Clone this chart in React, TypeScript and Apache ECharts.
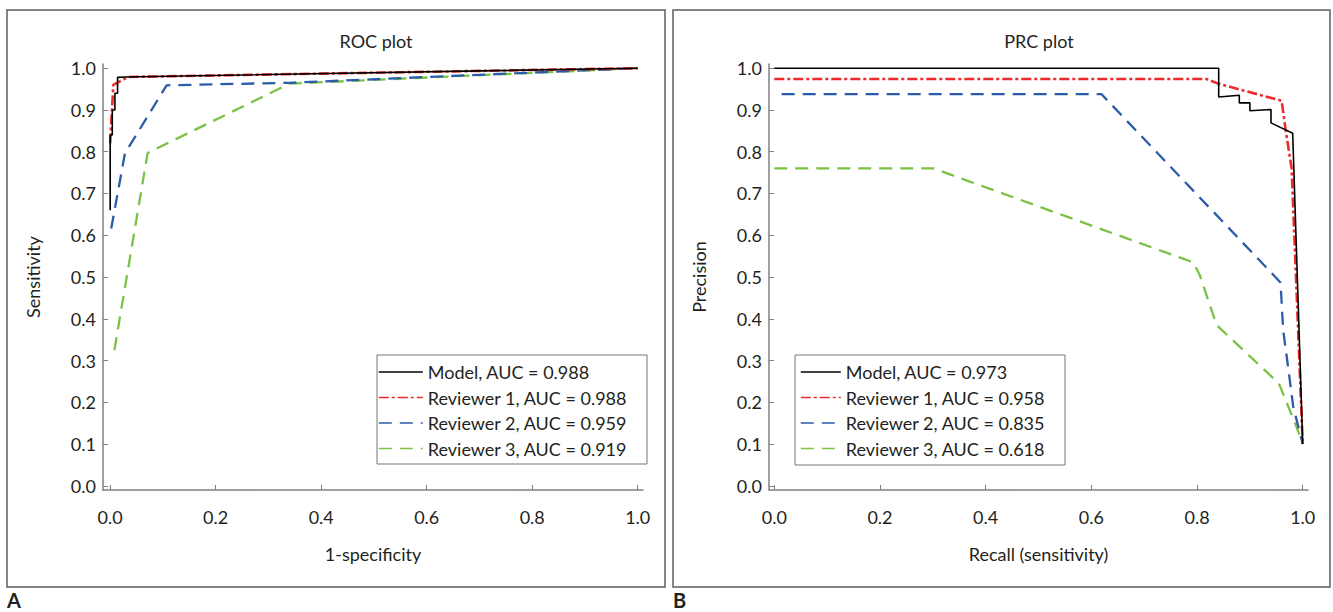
import React, { useEffect, useRef } from "react";
import * as echarts from "echarts";

const FONT = "Lato";
const TEXT = "#231f20";
const AXIS = "#808080";

const rocNames = [
  "Model, AUC = 0.988",
  "Reviewer 1, AUC = 0.988",
  "Reviewer 2, AUC = 0.959",
  "Reviewer 3, AUC = 0.919",
];
const prcNames = [
  "Model, AUC = 0.973",
  "Reviewer 1, AUC = 0.958",
  "Reviewer 2, AUC = 0.835",
  "Reviewer 3, AUC = 0.618",
];

// ROC: [1-specificity, sensitivity]
const rocModel = [
  [0, 0.66], [0, 0.84], [0.004, 0.84], [0.004, 0.9], [0.009, 0.9], [0.009, 0.94],
  [0.014, 0.94], [0.014, 0.978], [0.03, 0.979], [1, 1],
];
const rocReviewer1 = [[0, 0.82], [0.006, 0.96], [0.034, 0.979], [1, 1]];
const rocReviewer2 = [[0.002, 0.616], [0.028, 0.796], [0.107, 0.959], [0.34, 0.965], [1, 1]];
const rocReviewer3 = [[0.008, 0.325], [0.071, 0.797], [0.34, 0.963], [1, 1]];

// PRC: [recall, precision]
const prcModel = [
  [0, 1], [0.841, 1], [0.841, 0.931], [0.88, 0.935], [0.88, 0.917], [0.9, 0.917],
  [0.9, 0.898], [0.94, 0.901], [0.94, 0.869], [0.981, 0.844], [1, 0.1],
];
const prcReviewer1 = [
  [0, 0.974], [0.818, 0.974], [0.84, 0.963], [0.96, 0.922], [0.968, 0.85], [0.979, 0.76], [1, 0.1],
];
const prcReviewer2 = [
  [0.014, 0.938], [0.619, 0.938], [0.958, 0.487], [0.963, 0.373], [0.973, 0.278],
  [0.982, 0.19], [1, 0.1],
];
const prcReviewer3 = [
  [0, 0.76], [0.301, 0.76], [0.793, 0.535], [0.805, 0.505], [0.837, 0.385],
  [0.955, 0.245], [0.988, 0.142], [1, 0.1],
];

const xTicks = [0, 0.2, 0.4, 0.6, 0.8, 1.0];
const yTicks = [0, 0.1, 0.2, 0.3, 0.4, 0.5, 0.6, 0.7, 0.8, 0.9, 1.0];

const colors = ["#000000", "#ee2a2a", "#2c5ca9", "#7bc143"];
const lineTypes: any[] = ["solid", [10, 3, 3, 3], [13, 8], [13, 8]];
const widths = [1.6, 2.6, 2.3, 2.3];

function xAxis(gridIndex: number, min: number, max: number, name: string) {
  return {
    type: "value",
    gridIndex,
    min,
    max,
    name,
    nameLocation: "middle",
    nameGap: 55,
    nameTextStyle: { fontFamily: FONT, fontSize: 18, color: TEXT },
    axisLine: { show: true, onZero: false, lineStyle: { color: AXIS, width: 1.5 } },
    axisTick: { show: true, inside: true, length: 5, customValues: xTicks, lineStyle: { color: AXIS, width: 1 } },
    axisLabel: {
      customValues: xTicks,
      formatter: (v: number) => v.toFixed(1),
      margin: 18,
      fontFamily: FONT,
      fontSize: 18,
      color: TEXT,
    },
    splitLine: { show: false },
  };
}

function yAxis(gridIndex: number, name: string) {
  return {
    type: "value",
    gridIndex,
    min: -0.01,
    max: 1.01,
    name,
    nameLocation: "middle",
    nameGap: 61,
    nameTextStyle: { fontFamily: FONT, fontSize: 18, color: TEXT },
    axisLine: { show: true, onZero: false, lineStyle: { color: AXIS, width: 1.5 } },
    axisTick: { show: true, inside: true, length: 5, customValues: yTicks, lineStyle: { color: AXIS, width: 1 } },
    axisLabel: {
      customValues: yTicks,
      formatter: (v: number) => v.toFixed(1),
      margin: 7,
      fontFamily: FONT,
      fontSize: 18,
      color: TEXT,
    },
    splitLine: { show: false },
  };
}

function makeSeries(names: string[], datas: number[][][], idx: number) {
  return datas.map((d, i) => ({
    type: "line",
    name: names[i],
    xAxisIndex: idx,
    yAxisIndex: idx,
    data: d,
    symbol: "none",
    showSymbol: false,
    z: 10 - i,
    lineStyle: { color: colors[i], width: widths[i], type: lineTypes[i] },
    itemStyle: { color: colors[i] },
  }));
}

export default function App() {
  const ref = useRef<HTMLDivElement>(null);
  useEffect(() => {
    const chart = echarts.init(ref.current!, null, { renderer: "svg" });
    const legendBase = {
      orient: "vertical",
      itemHeight: 14,
      itemGap: 5.5,
      padding: 0,
      selectedMode: false,
      itemStyle: { opacity: 0 },
      lineStyle: { width: 1.6 },
      textStyle: { fontFamily: FONT, fontSize: 18, color: TEXT, lineHeight: 20 },
    };
    chart.setOption({
      animation: false,
      backgroundColor: "#ffffff",
      textStyle: { fontFamily: FONT },
      grid: [
        { left: 103, top: 64, width: 540, height: 426 },
        { left: 769, top: 64, width: 539, height: 426 },
      ],
      xAxis: [xAxis(0, -0.0136, 1.01, "1-specificity"), xAxis(1, -0.01, 1.01, "Recall (sensitivity)")],
      yAxis: [yAxis(0, "Sensitivity"), yAxis(1, "Precision")],
      legend: [
        { ...legendBase, data: rocNames, left: 378, top: 362, itemWidth: 44 },
        { ...legendBase, data: prcNames, left: 800, top: 362, itemWidth: 40 },
      ],
      series: [
        ...makeSeries(rocNames, [rocModel, rocReviewer1, rocReviewer2, rocReviewer3], 0),
        ...makeSeries(prcNames, [prcModel, prcReviewer1, prcReviewer2, prcReviewer3], 1),
      ],
      graphic: [
        { type: "rect", shape: { x: 7, y: 10, width: 658, height: 577 }, style: { fill: "none", stroke: "#5e5e5e", lineWidth: 1.5 } },
        { type: "rect", shape: { x: 673, y: 10, width: 657, height: 577 }, style: { fill: "none", stroke: "#5e5e5e", lineWidth: 1.5 } },
        { type: "rect", shape: { x: 377, y: 355, width: 270, height: 109 }, style: { fill: "none", stroke: "#777777", lineWidth: 1 } },
        { type: "rect", shape: { x: 795, y: 355, width: 270, height: 110 }, style: { fill: "none", stroke: "#777777", lineWidth: 1 } },
        { type: "text", x: 376, y: 41, style: { text: "ROC plot", fontFamily: FONT, fontSize: 18, fill: TEXT, align: "center", verticalAlign: "middle" } },
        { type: "text", x: 1039, y: 41, style: { text: "PRC plot", fontFamily: FONT, fontSize: 18, fill: TEXT, align: "center", verticalAlign: "middle" } },
        { type: "text", x: 7, y: 600, style: { text: "A", fontFamily: FONT, fontSize: 20, fontWeight: "bold", fill: TEXT, align: "left", verticalAlign: "middle" } },
        { type: "text", x: 673, y: 600, style: { text: "B", fontFamily: FONT, fontSize: 20, fontWeight: "bold", fill: TEXT, align: "left", verticalAlign: "middle" } },
      ],
    });
    return () => chart.dispose();
  }, []);
  return (
    <div
      ref={ref}
      style={{ position: "absolute", left: 0, top: 0, width: 1333, height: 612, background: "#fff" }}
    />
  );
}
